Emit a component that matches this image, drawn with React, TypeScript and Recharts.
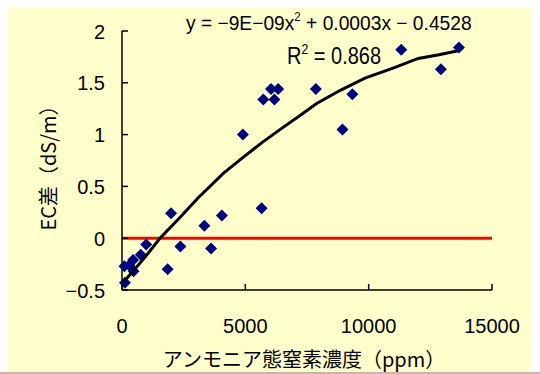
import {
  ReferenceLine,
  Scatter,
  ScatterChart,
  XAxis,
  YAxis,
} from "recharts";

// measured points: ammonium-N (ppm) vs EC difference (dS/m)
const nh4Ppm = [
  120, 100, 300, 450, 470, 760, 980, 1850, 1990, 2370, 3340, 3610, 4050, 4900,
  5660, 5730, 6040, 6180, 6330, 7860, 8940, 9340, 11320, 12930, 13660,
];
const ecDiff = [
  -0.43, -0.27, -0.26, -0.21, -0.32, -0.16, -0.06, -0.3, 0.24, -0.08, 0.12, -0.1, 0.22, 1.0,
  0.29, 1.34, 1.44, 1.34, 1.44, 1.44, 1.05, 1.39, 1.82, 1.63, 1.84,
];

// trend curve
const trendX = [110, 910, 1540, 2310, 3090, 4130, 4960, 5660, 6500, 7190, 7890, 8870, 9850, 10960, 12010, 12850, 13620];
const trendY = [-0.41, -0.19, 0.0, 0.19, 0.39, 0.63, 0.79, 0.92, 1.065, 1.18, 1.3, 1.43, 1.545, 1.64, 1.735, 1.77, 1.81];

const xTicks = [0, 5000, 10000, 15000];
const yTicks = [-0.5, 0, 0.5, 1, 1.5, 2];

const points = nh4Ppm.map((x, i) => ({ x, y: ecDiff[i] }));
const trend = trendX.map((x, i) => ({ x, y: trendY[i] }));

const numFont = "'Liberation Sans', Arial, sans-serif";
const jpFont = "'Noto Sans CJK JP', sans-serif";
const fmt = (v: number) => String(v).replace("-", "\u2212");

function XTick({ x, y, payload }: any) {
  return (
    <g>
      <line x1={x} y1={y} x2={x} y2={y - 6} stroke="#000" strokeWidth={1.5} />
      <text x={x} y={y + 43} textAnchor="middle" fontSize={20} fontFamily={numFont} fill="#000">
        {fmt(payload.value)}
      </text>
    </g>
  );
}

function YTick({ x, y, payload }: any) {
  return (
    <g>
      <line x1={x} y1={y} x2={x + 6} y2={y} stroke="#000" strokeWidth={1.5} />
      <text x={x - 17} y={y + 7.5} textAnchor="end" fontSize={20} fontFamily={numFont} fill="#000">
        {fmt(payload.value)}
      </text>
    </g>
  );
}

function Diamond({ cx, cy }: any) {
  const r = 6;
  return (
    <polygon
      points={`${cx},${cy - r} ${cx + r},${cy} ${cx},${cy + r} ${cx - r},${cy}`}
      fill="#000080"
    />
  );
}

const sup = { fontSize: 12, position: "relative" as const, top: "-0.75em", lineHeight: 0 };

export default function App() {
  return (
    <>
      <div style={{ position: "relative", width: 532, height: 364, background: "#FFFFCC" }}>
        <ScatterChart width={532} height={364} margin={{ top: 23, right: 48, bottom: 0, left: 0 }}>
          <XAxis
            type="number"
            dataKey="x"
            domain={[0, 15000]}
            ticks={xTicks}
            height={82}
            axisLine={{ stroke: "#000", strokeWidth: 1.5 }}
            tickLine={false}
            tickSize={0}
            tickMargin={0}
            tick={<XTick />}
          />
          <YAxis
            type="number"
            dataKey="y"
            domain={[-0.5, 2]}
            ticks={yTicks}
            width={114}
            axisLine={{ stroke: "#000", strokeWidth: 1.5 }}
            tickLine={false}
            tickSize={0}
            tickMargin={0}
            tick={<YTick />}
          />
          <ReferenceLine y={0} stroke="#FF0000" strokeWidth={3} />
          <Scatter data={points} shape={<Diamond />} isAnimationActive={false} />
          <Scatter
            data={trend}
            line={{ stroke: "#000", strokeWidth: 3 }}
            lineType="joint"
            shape={() => <g />}
            isAnimationActive={false}
          />
        </ScatterChart>

        <div
          style={{
            position: "absolute",
            left: 178,
            top: 3,
            fontFamily: numFont,
            fontSize: 20,
            lineHeight: "24px",
            whiteSpace: "nowrap",
            transform: "scaleX(0.96)",
            transformOrigin: "left center",
          }}
        >
          y = −9E−09x<span style={sup}>2</span> + 0.0003x − 0.4528
        </div>
        <div
          style={{
            position: "absolute",
            left: 279,
            top: 34,
            fontFamily: numFont,
            fontSize: 23,
            lineHeight: "28px",
            whiteSpace: "nowrap",
            transform: "scaleX(0.87)",
            transformOrigin: "left center",
          }}
        >
          R<span style={{ ...sup, fontSize: 14 }}>2</span> = 0.868
        </div>
        <div
          style={{
            position: "absolute",
            left: 40,
            top: 155,
            transform: "translate(-50%, -50%) rotate(-90deg)",
            fontFamily: jpFont,
            fontSize: 20,
            lineHeight: "22px",
            whiteSpace: "nowrap",
          }}
        >
          EC差（dS/m）
        </div>
        <div
          style={{
            position: "absolute",
            left: 296,
            top: 351,
            transform: "translate(-50%, -50%)",
            fontFamily: jpFont,
            fontSize: 20,
            lineHeight: "20px",
            whiteSpace: "nowrap",
          }}
        >
          アンモニア態窒素濃度（ppm）
        </div>
      </div>
      <div style={{ position: "fixed", left: 0, top: 372, width: 540, height: 2, background: "#D2B0B0" }} />
    </>
  );
}
